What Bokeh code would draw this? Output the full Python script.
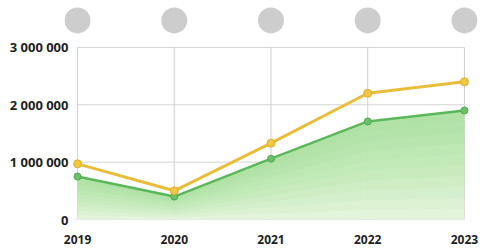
from bokeh.plotting import figure
from bokeh.models import ColumnDataSource, FixedTicker, Range1d
from bokeh.embed import file_html
from bokeh.resources import INLINE

years = [2019, 2020, 2021, 2022, 2023]
yellow_values = [970000, 500000, 1330000, 2200000, 2400000]
green_values = [750000, 400000, 1060000, 1710000, 1900000]
y_ticks = [0, 1000000, 2000000, 3000000]
y_tick_labels = ["0", "1 000 000", "2 000 000", "3 000 000"]
badge_level = 3470000

data = dict(x=years, yellow=yellow_values, green=green_values,
            zero=[0] * len(years), top=[3000000] * len(years),
            badge=[badge_level] * len(years))
fracs = [0.1 * k for k in range(1, 10)]
for i, f in enumerate(fracs):
    data["band%d" % i] = [g * f for g in green_values]
src = ColumnDataSource(data)

pad = 0.135
p = figure(width=480, height=248, output_backend="svg", toolbar_location=None,
           x_range=Range1d(2019 - pad, 2023 + pad), y_range=Range1d(0, 3730000),
           min_border_left=64, min_border_right=3, min_border_top=5, min_border_bottom=29)
p.outline_line_color = None
p.background_fill_color = "white"

# grid
p.xgrid.grid_line_color = None
p.ygrid.grid_line_color = None
p.segment(x0=[2019] * 4, y0=y_ticks, x1=[2023] * 4, y1=y_ticks, line_color="#d4d4d4", line_width=1)
p.segment(x0="x", y0="zero", x1="x", y1="top", source=src, line_color="#d0d0d0", line_width=1)

# area (gradient-like layering)
p.varea(x="x", y1="zero", y2="green", source=src, fill_color="#e0f3d8", fill_alpha=0.95)
for i in range(len(fracs)):
    p.varea(x="x", y1="band%d" % i, y2="green", source=src, fill_color="#86cf77", fill_alpha=0.07)

# lines
p.line(x="x", y="green", source=src, line_color="#5bb85a", line_width=2.5)
p.scatter(x="x", y="green", source=src, size=7, fill_color="#6cc06a", line_color="#4ea84d")
p.line(x="x", y="yellow", source=src, line_color="#e9bd3a", line_width=3)
p.scatter(x="x", y="yellow", source=src, size=8, fill_color="#f0c846", line_color="#dcae2c")

# badges
p.scatter(x="x", y="badge", source=src, size=26, fill_color="#cdcdcd", line_color=None)

# axes
p.xaxis.ticker = FixedTicker(ticks=years)
p.xaxis.axis_line_color = None
p.xaxis.major_tick_line_color = None
p.xaxis.minor_tick_line_color = None
p.xaxis.major_label_standoff = 9
p.xaxis.major_label_text_font = "Open Sans"
p.xaxis.major_label_text_font_style = "bold"
p.xaxis.major_label_text_font_size = "12px"
p.xaxis.major_label_text_color = "#1e1e1e"

p.yaxis.ticker = FixedTicker(ticks=y_ticks)
p.yaxis.major_label_overrides = {t: l for t, l in zip(y_ticks, y_tick_labels)}
p.yaxis.axis_line_color = None
p.yaxis.major_tick_line_color = None
p.yaxis.minor_tick_line_color = None
p.yaxis.major_label_standoff = -10
p.yaxis.major_label_text_font = "Open Sans"
p.yaxis.major_label_text_font_style = "bold"
p.yaxis.major_label_text_font_size = "13px"
p.yaxis.major_label_text_color = "#1e1e1e"

open("out.html", "w").write(file_html(p, INLINE))
